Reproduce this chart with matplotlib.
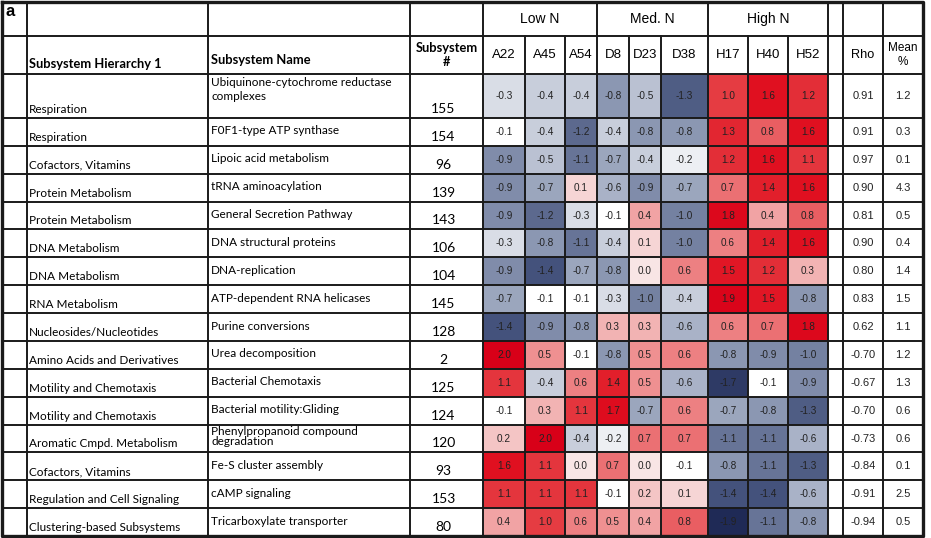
import numpy as np
import matplotlib.pyplot as plt
from matplotlib.colors import LinearSegmentedColormap, Normalize

# table content
hierarchy = [
    "Respiration", "Respiration", "Cofactors, Vitamins", "Protein Metabolism",
    "Protein Metabolism", "DNA Metabolism", "DNA Metabolism", "RNA Metabolism",
    "Nucleosides/Nucleotides", "Amino Acids and Derivatives",
    "Motility and Chemotaxis", "Motility and Chemotaxis",
    "Aromatic Cmpd. Metabolism", "Cofactors, Vitamins",
    "Regulation and Cell Signaling", "Clustering-based Subsystems",
]
names = [
    "Ubiquinone-cytochrome reductase\ncomplexes", "F0F1-type ATP synthase",
    "Lipoic acid metabolism", "tRNA aminoacylation",
    "General Secretion Pathway", "DNA structural proteins", "DNA-replication",
    "ATP-dependent RNA helicases", "Purine conversions", "Urea decomposition",
    "Bacterial Chemotaxis", "Bacterial motility:Gliding",
    "Phenylpropanoid compound\ndegradation", "Fe-S cluster assembly",
    "cAMP signaling", "Tricarboxylate transporter",
]
subsystem_ids = [155, 154, 96, 139, 143, 106, 104, 145, 128, 2, 125, 124, 120, 93, 153, 80]

samples = ["A22", "A45", "A54", "D8", "D23", "D38", "H17", "H40", "H52"]
groups = ["Low N", "Med. N", "High N"]
group_size = [3, 3, 3]

zscores = [
    [-0.3, -0.4, -0.4, -0.8, -0.5, -1.3, 1.0, 1.6, 1.2],
    [-0.1, -0.4, -1.2, -0.4, -0.8, -0.8, 1.3, 0.8, 1.6],
    [-0.9, -0.5, -1.1, -0.7, -0.4, -0.2, 1.2, 1.6, 1.1],
    [-0.9, -0.7, 0.1, -0.6, -0.9, -0.7, 0.7, 1.4, 1.6],
    [-0.9, -1.2, -0.3, -0.1, 0.4, -1.0, 1.8, 0.4, 0.8],
    [-0.3, -0.8, -1.1, -0.4, 0.1, -1.0, 0.6, 1.4, 1.6],
    [-0.9, -1.4, -0.7, -0.8, 0.0, 0.6, 1.5, 1.2, 0.3],
    [-0.7, -0.1, -0.1, -0.3, -1.0, -0.4, 1.9, 1.5, -0.8],
    [-1.4, -0.9, -0.8, 0.3, 0.3, -0.6, 0.6, 0.7, 1.8],
    [2.0, 0.5, -0.1, -0.8, 0.5, 0.6, -0.8, -0.9, -1.0],
    [1.1, -0.4, 0.6, 1.4, 0.5, -0.6, -1.7, -0.1, -0.9],
    [-0.1, 0.3, 1.1, 1.7, -0.7, 0.6, -0.7, -0.8, -1.3],
    [0.2, 2.0, -0.4, -0.2, 0.7, 0.7, -1.1, -1.1, -0.6],
    [1.6, 1.1, 0.0, 0.7, 0.0, -0.1, -0.8, -1.1, -1.3],
    [1.1, 1.1, 1.1, -0.1, 0.2, 0.1, -1.4, -1.4, -0.6],
    [0.4, 1.0, 0.6, 0.5, 0.4, 0.8, -1.9, -1.1, -0.8],
]
rho = [0.91, 0.91, 0.97, 0.90, 0.81, 0.90, 0.80, 0.83, 0.62,
       -0.70, -0.67, -0.70, -0.73, -0.84, -0.91, -0.94]
mean_pct = [1.2, 0.3, 0.1, 4.3, 0.5, 0.4, 1.4, 1.5, 1.1,
            1.2, 1.3, 0.6, 0.6, 0.1, 2.5, 0.5]

# layout (pixels)
col_w = [25, 181, 202, 73, 42, 40, 32, 32, 32, 47, 40, 40, 40, 15, 40, 40]
head_h = [34, 38]
row_h = [44] + [27.87] * 15
x0, y0 = 2, 2

xe = x0 + np.concatenate([[0], np.cumsum(col_w)])
ye = y0 + np.concatenate([[0], np.cumsum(head_h + row_h)])

LEFT = ["Lato", "DejaVu Sans"]
ARIAL = ["Liberation Sans", "DejaVu Sans"]

stops = [(-2.0, "#18224f"), (-1.4, "#44527c"), (-0.8, "#8c98b3"),
         (-0.4, "#c8cedb"), (-0.1, "#ffffff"), (0.0, "#f8e6e6"),
         (0.5, "#ef9293"), (1.0, "#e53d43"), (1.6, "#e01020"), (2.0, "#d80018")]
cmap = LinearSegmentedColormap.from_list(
    "bwr_tab", [((v + 2) / 4, c) for v, c in stops])
norm = Normalize(-2, 2)

fig = plt.figure(figsize=(9.31, 5.38), dpi=100)
ax = fig.add_axes([0, 0, 1, 1])
ax.set_xlim(0, 931)
ax.set_ylim(538, 0)
ax.axis("off")

# heat cells
ax.pcolormesh(xe[4:14], ye[2:], np.array(zscores), cmap=cmap, norm=norm, zorder=1)

line_kw = dict(color="#1a1a1a", lw=1.4, zorder=3)

# horizontal lines
for y in ye[1:-1]:
    ax.plot([xe[0], xe[-1]], [y, y], **line_kw)

# vertical lines: full height ones and those below group header
group_edges = {4, 7, 10, 13, 14, 15}
for i, x in enumerate(xe[1:-1], start=1):
    if i <= 3 or i in group_edges:
        ax.plot([x, x], [ye[0], ye[-1]], **line_kw)
    else:
        ax.plot([x, x], [ye[1], ye[-1]], **line_kw)

# outer frame
ax.plot([xe[0], xe[-1], xe[-1], xe[0], xe[0]],
        [ye[0], ye[0], ye[-1], ye[-1], ye[0]], color="#1a1a1a", lw=2.4, zorder=4)

ax.text(5, 4, "a", fontsize=12, fontweight="bold", family=ARIAL, va="top", ha="left")

# header row 1: groups
start = 4
for g, n in zip(groups, group_size):
    xc = (xe[start] + xe[start + n]) / 2
    ax.text(xc, (ye[0] + ye[1]) / 2, g, fontsize=10, family=ARIAL,
            ha="center", va="center")
    start += n

# header row 2
hy2 = (ye[1] + ye[2]) / 2
ax.text(xe[1] + 2, ye[2] - 4, "Subsystem Hierarchy 1", fontsize=9.3,
        fontweight="bold", family=LEFT, ha="left", va="bottom")
ax.text(xe[2] + 3, hy2 + 5, "Subsystem Name", fontsize=9.3,
        fontweight="bold", family=LEFT, ha="left", va="center")
ax.text((xe[3] + xe[4]) / 2, hy2, "Subsystem\n#", fontsize=9.3,
        fontweight="bold", family=LEFT, ha="center", va="center", linespacing=1.2)
for j, s in enumerate(samples):
    ax.text((xe[4 + j] + xe[5 + j]) / 2, hy2, s, fontsize=9.5, family=ARIAL,
            ha="center", va="center")
ax.text((xe[14] + xe[15]) / 2, hy2, "Rho", fontsize=9.2, family=ARIAL,
        ha="center", va="center")
ax.text((xe[15] + xe[16]) / 2, hy2, "Mean\n%", fontsize=8.5, family=ARIAL,
        ha="center", va="center", linespacing=1.3)

# body
for i in range(len(names)):
    top, bot = ye[2 + i], ye[3 + i]
    mid = (top + bot) / 2
    ax.text(xe[1] + 2, bot - 3, hierarchy[i], fontsize=8.5, family=LEFT,
            ha="left", va="bottom")
    if "\n" in names[i]:
        tall = row_h[i] > 30
        ax.text(xe[2] + 3, top + (3 if tall else 1), names[i], fontsize=8.5,
                family=LEFT, ha="left", va="top",
                linespacing=1.3 if tall else 0.95)
    else:
        ax.text(xe[2] + 3, mid - 1, names[i], fontsize=8.5, family=LEFT,
                ha="left", va="center")
    ax.text((xe[3] + xe[4]) / 2 - 3, bot - 3, str(subsystem_ids[i]), fontsize=10,
            family=LEFT, ha="center", va="bottom")
    for j, v in enumerate(zscores[i]):
        ax.text((xe[4 + j] + xe[5 + j]) / 2, mid, f"{v:.1f}", fontsize=7.2,
                family=ARIAL, ha="center", va="center", color="#222222", zorder=2)
    ax.text((xe[14] + xe[15]) / 2, mid, f"{rho[i]:.2f}", fontsize=8,
            family=ARIAL, ha="center", va="center", color="#222222")
    ax.text((xe[15] + xe[16]) / 2, mid, f"{mean_pct[i]:.1f}", fontsize=8,
            family=ARIAL, ha="center", va="center", color="#222222")

fig.savefig("out.png", dpi=100)
